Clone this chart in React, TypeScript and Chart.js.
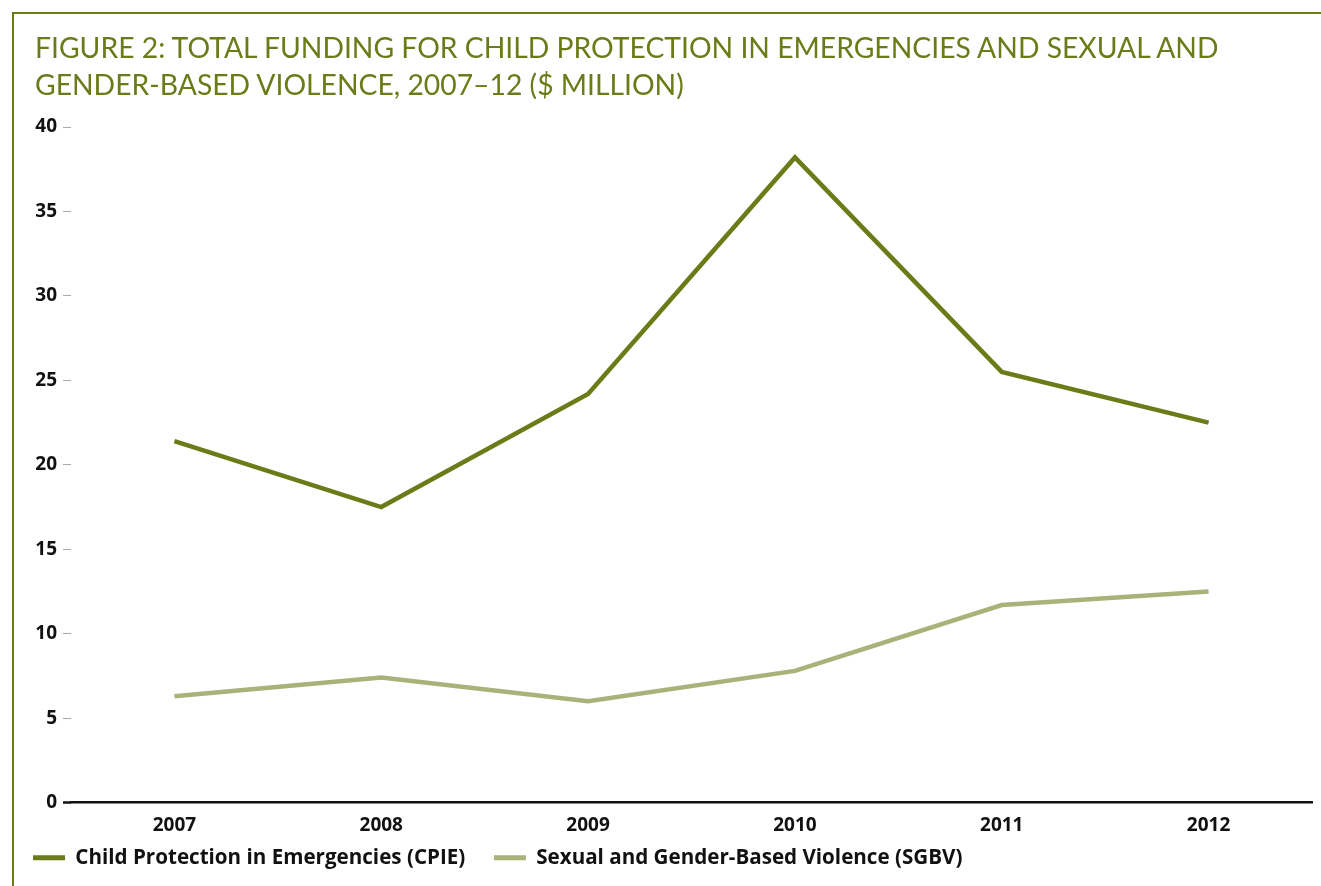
import React, { useEffect, useRef } from "react";
import { Chart, registerables } from "chart.js";

Chart.register(...registerables);

const years = ["2007", "2008", "2009", "2010", "2011", "2012"];
const cpieValues = [21.4, 17.5, 24.2, 38.2, 25.5, 22.5];
const sgbvValues = [6.3, 7.4, 6.0, 7.8, 11.7, 12.5];
const titleLines = [
  "FIGURE 2: TOTAL FUNDING FOR CHILD PROTECTION IN EMERGENCIES AND SEXUAL AND",
  "GENDER-BASED VIOLENCE, 2007–12 ($ MILLION)",
];
const seriesNames = [
  "Child Protection in Emergencies (CPIE)",
  "Sexual and Gender-Based Violence (SGBV)",
];

const OLIVE = "#6C7A18";
const LIGHT = "#A8B37A";
const TITLE_FONT = "Lato, 'Open Sans', sans-serif";
const FONT = "'Open Sans', Lato, sans-serif";

export default function App() {
  const ref = useRef<HTMLCanvasElement | null>(null);

  useEffect(() => {
    if (!ref.current) return;
    const chart = new Chart(ref.current, {
      type: "line",
      data: {
        labels: years,
        datasets: [
          {
            label: seriesNames[0],
            data: cpieValues,
            borderColor: OLIVE,
            backgroundColor: OLIVE,
            borderWidth: 4.5,
            pointRadius: 0,
            tension: 0,
          },
          {
            label: seriesNames[1],
            data: sgbvValues,
            borderColor: LIGHT,
            backgroundColor: LIGHT,
            borderWidth: 4.5,
            pointRadius: 0,
            tension: 0,
          },
        ],
      },
      options: {
        animation: false,
        responsive: false,
        layout: { padding: { left: 27, right: 9, top: 127, bottom: 8 } },
        plugins: {
          tooltip: { enabled: false },
          title: { display: false },
          legend: {
            position: "bottom",
            align: "start",
            labels: {
              boxWidth: 32,
              boxHeight: 5,
              padding: 6,
              color: "#111",
              font: { family: FONT, size: 20.6, weight: "bold" },
              generateLabels: (c: any) =>
                Chart.defaults.plugins.legend.labels
                  .generateLabels(c)
                  .map((l: any) => ({ ...l, lineWidth: 0, text: l.text + "\u2003\u200A" })),
            },
          },
        },
        scales: {
          x: {
            offset: true,
            grid: { display: false },
            border: { display: true, color: "#111", width: 2.5 },
            ticks: {
              color: "#111",
              font: { family: FONT, size: 19, weight: "bold" },
              padding: 4,
            },
          },
          y: {
            min: 0,
            max: 40,
            afterFit: (s: any) => {
              s.width = 44;
            },
            grid: {
              drawOnChartArea: false,
              tickLength: 8,
              tickColor: (ctx: any) => (ctx.tick && ctx.tick.value === 0 ? "#111" : "#aaa"),
              tickWidth: (ctx: any) => (ctx.tick && ctx.tick.value === 0 ? 2.5 : 1),
            },
            border: { display: false },
            ticks: {
              stepSize: 5,
              color: "#111",
              font: { family: FONT, size: 19, weight: "bold" },
              padding: 6,
            },
          },
        },
      },
    });
    return () => chart.destroy();
  }, []);

  return (
    <div style={{ position: "fixed", left: 0, top: 0, width: 1321, height: 886, background: "#fff" }}>
      <div
        style={{
          position: "absolute",
          left: 12,
          top: 12,
          width: 1309,
          height: 874,
          borderTop: `2.5px solid ${OLIVE}`,
          borderLeft: `2.5px solid ${OLIVE}`,
          boxSizing: "border-box",
        }}
      />
      <canvas ref={ref} width={1321} height={886} style={{ position: "absolute", left: 0, top: 0 }} />
      <div
        style={{
          position: "absolute",
          left: 35,
          top: 29,
          color: OLIVE,
          fontFamily: TITLE_FONT,
          fontSize: 28.3,
          lineHeight: "37px",
          whiteSpace: "nowrap",
        }}
      >
        {titleLines.map((t) => (
          <div key={t}>{t}</div>
        ))}
      </div>
    </div>
  );
}
